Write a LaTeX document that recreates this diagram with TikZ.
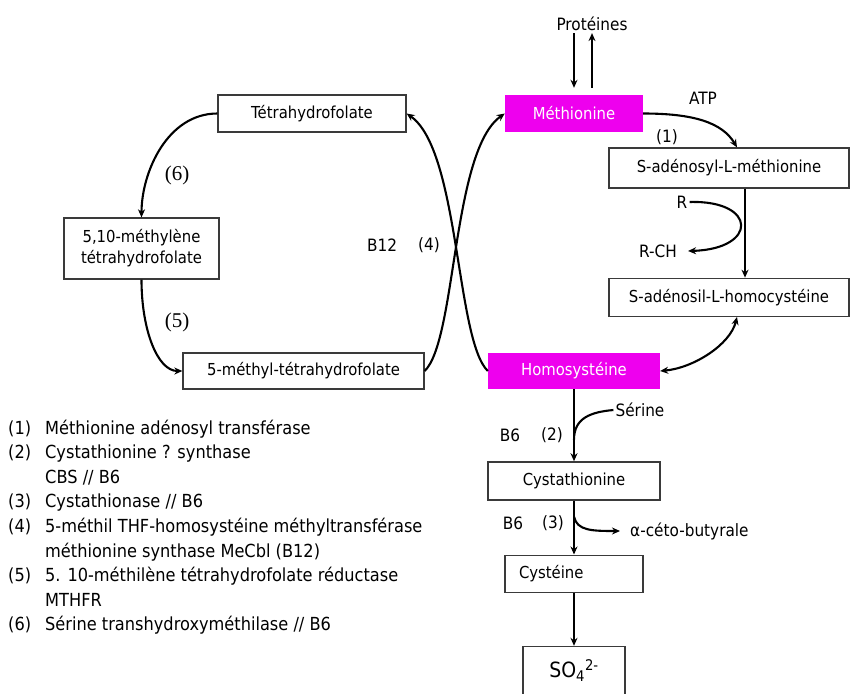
\documentclass[tikz,border=0pt]{standalone}
\usepackage{fontspec}
\setmainfont{DejaVu Sans}[FakeStretch=0.9]
\newfontfamily\stepfont{Liberation Serif}
\usepackage{tikz}
\usetikzlibrary{arrows.meta,positioning,calc}
\definecolor{hcmag}{HTML}{EE00EE}
\definecolor{hcline}{HTML}{3A3A3A}
\tikzset{
  cpd/.style={rectangle,draw=hcline,line width=1.3pt,fill=white,inner sep=0pt,
              align=center,font=\fontsize{16.5}{21}\selectfont},
  hub/.style={rectangle,fill=hcmag,inner sep=0pt,text=white,
              font=\fontsize{16.5}{21}\selectfont},
  lbl/.style={inner sep=2pt,font=\fontsize{17}{21}\selectfont},
  stepnum/.style={inner sep=2pt,font=\stepfont\fontsize{21}{24}\selectfont},
  rxn/.style={->,line width=2.1pt},
  side/.style={line width=2.1pt},
  >={Stealth[length=8pt,width=7pt]},
}

\begin{document}
\begin{tikzpicture}[x=1pt,y=-1pt]
  \useasboundingbox (0,0) rectangle (853,693);
  \fill[white] (0,0) rectangle (853,693);
  % methionine / homocysteine side
  \node[hub,minimum width=138pt,minimum height=37pt] (met) at (574,113.5) {Méthionine};
  \node[cpd,minimum width=240pt,minimum height=40pt] (sam) at (729,168) {S-adénosyl-L-méthionine};
  \node[cpd,minimum width=240pt,minimum height=38pt,below=89pt of sam] (sah) {S-adénosil-L-homocystéine};
  \node[hub,minimum width=172pt,minimum height=36pt] (hcy) at (574,371) {Homosystéine};
  \node[cpd,minimum width=172pt,minimum height=38pt,below=72pt of hcy] (cysta) {Cystathionine};
  \node[cpd,minimum width=138pt,minimum height=37pt,text width=110pt,inner xsep=14pt,align=left,
        below=54pt of cysta] (cys) {Cystéine};
  \node[cpd,minimum width=102pt,minimum height=48pt,below=53pt of cys,
        font=\fontsize{21}{24}\selectfont] (so4) {SO\textsubscript{4}\textsuperscript{2-}};
  % folate side
  \node[cpd,minimum width=188pt,minimum height=37pt] (thf) at (312,113.5) {Tétrahydrofolate};
  \node[cpd,minimum width=155pt,minimum height=61pt] (mthf510) at (141.5,248.5) {5,10-méthylène\\tétrahydrofolate};
  \node[cpd,minimum width=241pt,minimum height=36pt] (mthf5) at (303.5,371) {5-méthyl-tétrahydrofolate};
  % labels
  \node[lbl] (prot) at (592,24) {Protéines};
  \node[lbl] (atp) at (703,98) {ATP};
  \node[lbl] (s1) at (667,137) {(1)};
  \node[lbl] (r) at (682,202) {R};
  \node[lbl] (rch) at (658,251) {R-CH};
  \node[lbl] (ser) at (640,410) {Sérine};
  \node[lbl] (b6a) at (510,435) {B6};
  \node[lbl] (s2) at (552,435) {(2)};
  \node[lbl] (b6b) at (513,523) {B6};
  \node[lbl] (s3) at (553,523) {(3)};
  \node[lbl,anchor=west] (ceto) at (628,531) {α-céto-butyrale};
  \node[stepnum] (s6) at (177,175) {(6)};
  \node[stepnum] (s5) at (177,322) {(5)};
  \node[lbl] (b12) at (382,245) {B12};
  \node[lbl] (s4) at (429,245) {(4)};
  \node[lbl,anchor=base west,inner sep=0pt] (key) at (8,434) {\fontsize{18}{24.6}\selectfont
    \begin{tabular}[t]{@{}p{37pt}@{}l@{}}
    (1) & Méthionine adénosyl transférase\\
    (2) & Cystathionine ? synthase\\
        & CBS // B6\\
    (3) & Cystathionase // B6\\
    (4) & 5-méthil THF-homosystéine méthyltransférase\\
        & méthionine synthase MeCbl (B12)\\
    (5) & 5. 10-méthilène tétrahydrofolate réductase\\
        & MTHFR\\
    (6) & Sérine transhydroxyméthilase // B6
    \end{tabular}};
  % connectors
  \draw[rxn,line width=2.6pt] (prot.south -| met.north) -- ([yshift=7pt]met.north);
  \draw[rxn,line width=2.6pt] ([yshift=7pt]met.north -| prot.south) -- (prot.south);
  \draw[rxn] (met.east) .. controls +(50,0) and +(-15,-25) .. ([xshift=8pt]sam.north);
  \draw[rxn] ([xshift=16pt]sam.south) -- ([xshift=16pt]sah.north);
  \draw[rxn] (r.east) .. controls +(68,-2) and +(70,-2) .. ([xshift=9pt]rch.east);
  \draw[side,<->] ([xshift=8pt]sah.south) .. controls +(-7,28) and +(33,-3) .. (hcy.east);
  \draw[rxn] (hcy) -- (cysta);
  \draw[side] (ser.west) .. controls +(-22,2) and +(0,-22) .. ($(hcy.south)!0.7!(cysta.north)$);
  \draw[rxn] (cysta) -- (cys);
  \draw[rxn] ($(cysta.south)!0.3!(cys.north)$) .. controls +(3,14) and +(-28,0) .. ([xshift=-8pt]ceto.west);
  \draw[rxn] (cys) -- (so4);
  \draw[rxn] (thf.west) .. controls +(-50,0) and +(0,-45) .. (mthf510.north);
  \draw[rxn] (mthf510.south) .. controls +(0,50) and +(-25,0) .. (mthf5.west);
  \draw[rxn] (mthf5.east) .. controls +(32,-31) and +(-53,37) .. (met.west);
  \draw[rxn] (hcy.west) .. controls +(-32,-31) and +(53,37) .. (thf.east);
\end{tikzpicture}
\end{document}
